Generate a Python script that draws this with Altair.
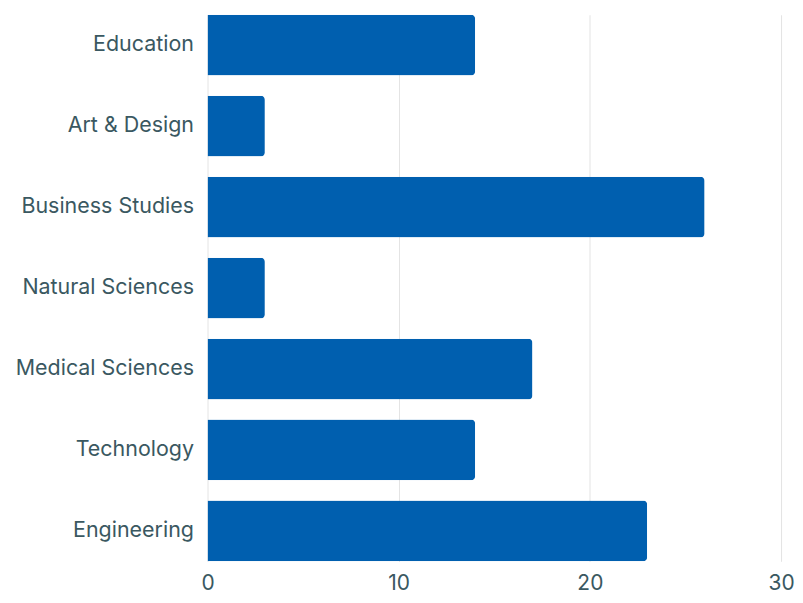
import altair as alt
import pandas as pd

categories = ["Education", "Art & Design", "Business Studies", "Natural Sciences",
              "Medical Sciences", "Technology", "Engineering"]
values = [14, 3, 26, 3, 17, 14, 23]

df = pd.DataFrame({"category": categories, "value": values})

text_color = "#3a5861"
font = "Inter"

chart = alt.Chart(df).mark_bar(color="#005FAF", cornerRadiusEnd=4).encode(
    x=alt.X("value:Q", scale=alt.Scale(domain=[0, 30], nice=False),
            axis=alt.Axis(values=[0, 10, 20, 30], title=None, domain=False, ticks=False,
                          grid=True, gridColor="#e4e4e4", labelFontSize=21,
                          labelColor=text_color, labelFont=font, labelPadding=11,
                          labelFlush=False)),
    y=alt.Y("category:N", sort=categories,
            scale=alt.Scale(paddingInner=0.25, paddingOuter=0),
            axis=alt.Axis(title=None, domain=False, ticks=False, grid=False,
                          labelFontSize=21.5, labelColor=text_color, labelFont=font,
                          labelPadding=14, minExtent=194, maxExtent=194, labelLimit=300)),
).properties(
    width=575, height=548,
    padding={"left": 6, "top": 6, "right": 0, "bottom": 0},
).configure_view(stroke=None)

chart.save("out.html", embed_options={"renderer": "svg", "actions": False})
